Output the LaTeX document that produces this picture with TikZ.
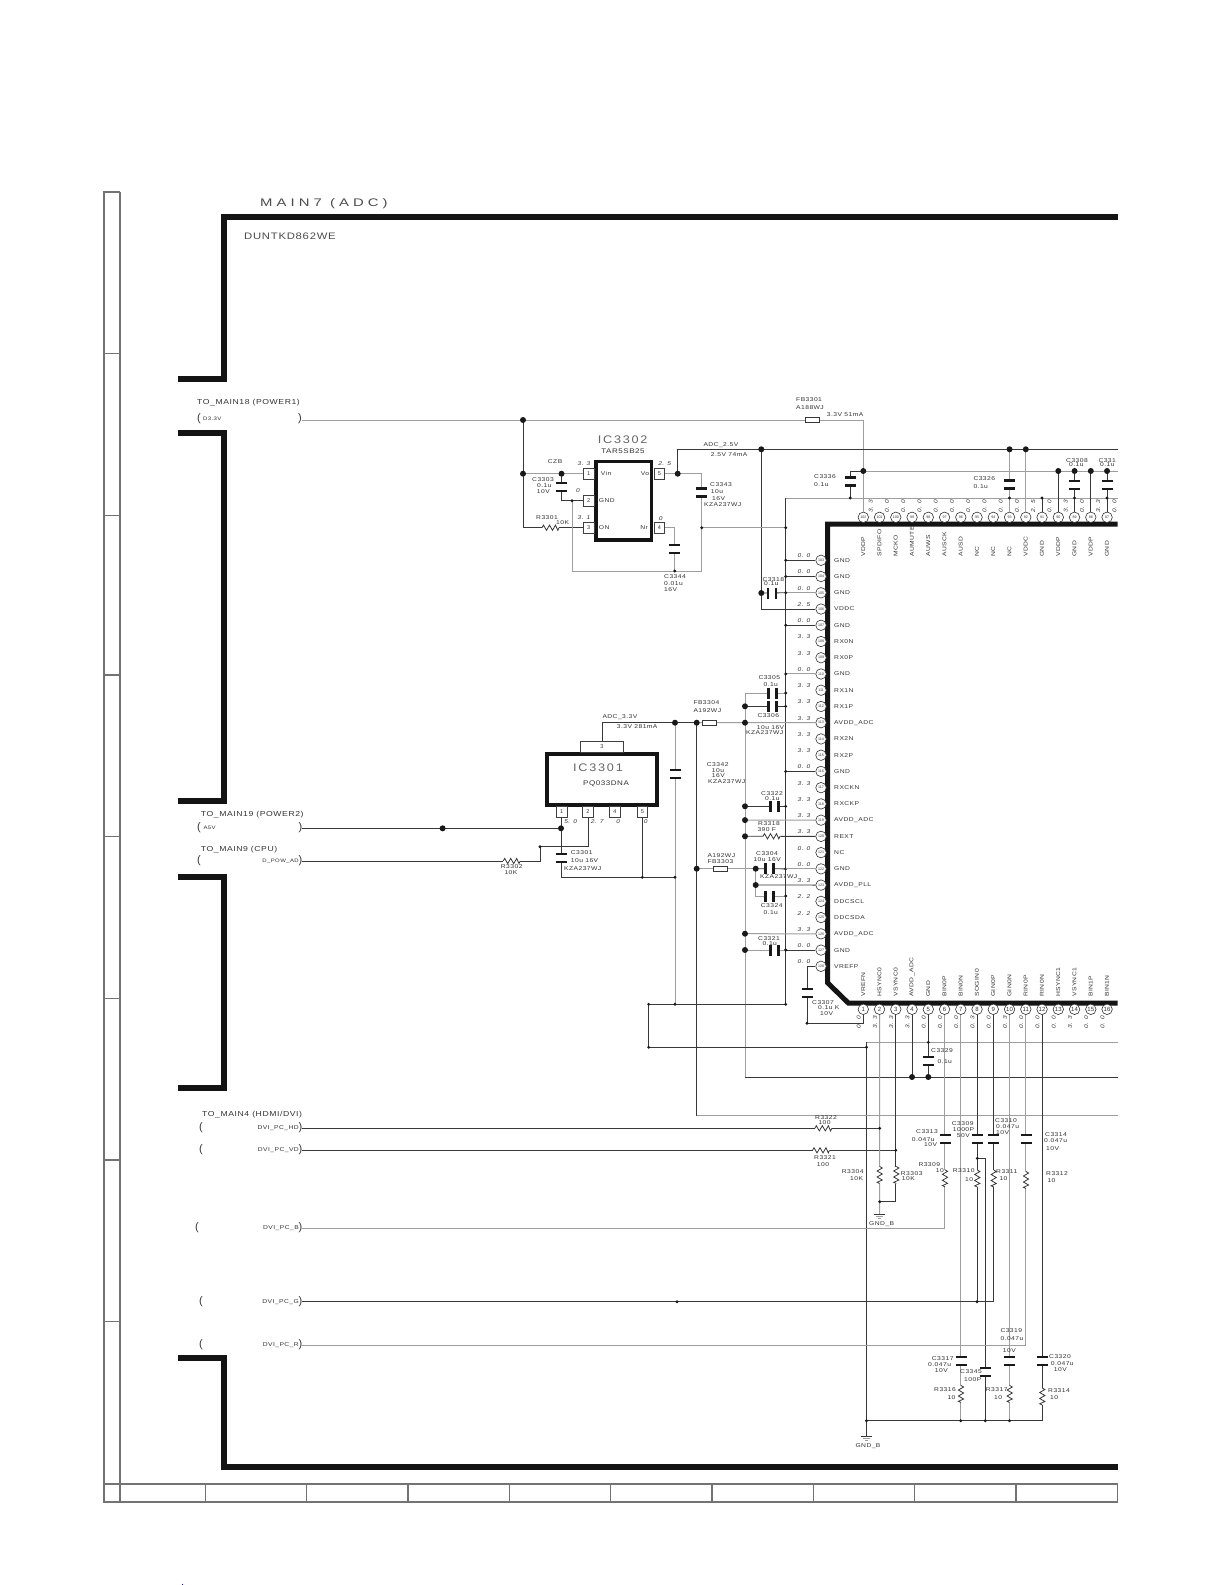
\documentclass[tikz,border=0pt]{standalone}
\usepackage{fontspec}
\newfontfamily\sch[FakeStretch=1.2,LetterSpace=8]{Liberation Sans}
\newfontfamily\schw[FakeStretch=1.35,LetterSpace=37]{Liberation Sans}
\newfontfamily\schi[FakeStretch=1.15,LetterSpace=16]{Liberation Sans}
\newcounter{lb}
\tikzset{
 w/.style={draw=black!78,line width=.8pt},
 wl/.style={draw=black!38,line width=1pt},
 frm/.style={draw=black!55,line width=1.1pt},
 thk/.style={draw=black!92,line width=6pt,line cap=butt,line join=miter},
 plate/.style={draw=black!90,line width=2.6pt},
 jb/.style={circle,fill=black!90,inner sep=0pt,minimum size=6pt},
 js/.style={circle,fill=black!90,inner sep=0pt,minimum size=3.2pt},
 lbl/.style={anchor=west,inner sep=0pt,text=black!80,font=\sch\fontsize{5.6}{6}\selectfont},
 volt/.style={anchor=center,inner sep=0pt,text=black!80,font=\sch\itshape\fontsize{5.5}{6}\selectfont},
 big/.style={anchor=center,inner sep=0pt,text=black!60,font=\schi\fontsize{11}{12}\selectfont},
 mid/.style={anchor=center,inner sep=0pt,text=black!80,font=\sch\fontsize{6.7}{8}\selectfont},
 side/.style={font=\sch\fontsize{7.2}{8}\selectfont},
 pinc/.style={circle,draw=black!80,line width=.6pt,fill=white,inner sep=0pt,minimum size=10.5pt,text=black!80,font=\fontspec{Liberation Sans}\fontsize{3.6}{4}\selectfont},
 pinb/.style={rectangle,draw=black!75,line width=.7pt,fill=white,inner sep=0pt,minimum width=10.5pt,minimum height=10.5pt,text=black!80,font=\fontspec{Liberation Sans}\fontsize{5.5}{6}\selectfont},
 icb/.style={rectangle,draw=black!92,inner sep=0pt},
 capv/.pic={\fill[white](-5,-4)rectangle(5,4);\draw[plate](-5.5,-4)--(5.5,-4) (-5.5,4)--(5.5,4);},
 caph/.pic={\fill[white](-4,-5)rectangle(4,5);\draw[plate](-4,-5.5)--(-4,5.5) (4,-5.5)--(4,5.5);},
 resv/.pic={\fill[white](-3,-8.5)rectangle(3,8.5);\draw[w](0,-8.5)--(2.6,-7)--(-2.6,-4)--(2.6,-1)--(-2.6,2)--(2.6,5)--(-2.6,7.3)--(0,8.5);},
 resh/.pic={\fill[white](-8.5,-3)rectangle(8.5,3);\draw[w](-8.5,0)--(-7,-2.6)--(-4,2.6)--(-1,-2.6)--(2,2.6)--(5,-2.6)--(7.3,2.6)--(8.5,0);},
 fuse/.pic={\draw[w,fill=white](-7,-2.5)rectangle(7,2.5);},
 gnds/.pic={\draw[w](-5.5,0)--(5.5,0);\draw[wl,line width=.6pt](-3.5,2)--(3.5,2);\draw[wl,line width=.6pt](-1.5,4)--(1.5,4);},
}
\newcommand\lab[3][]{\stepcounter{lb}\node[lbl,#1] (lab\arabic{lb}) at (#2) {#3};}
\newcommand\dotB[1]{\stepcounter{lb}\node[jb] (dot\arabic{lb}) at (#1) {};}
\newcommand\dotS[1]{\stepcounter{lb}\node[js] (dot\arabic{lb}) at (#1) {};}
\newcommand\pL[3]{\stepcounter{lb}\node[anchor=center,inner sep=0pt,text=black!80,font=\fontspec{Liberation Sans}\fontsize{11}{11}\selectfont] (par\arabic{lb}) at (#1,#2) {#3};}
\begin{document}
\begin{tikzpicture}[x=1pt,y=-1pt]
\useasboundingbox (0,0) rectangle (1221,1585);
\fill[white] (0,0) rectangle (1221,1585);
% drawing frame
\draw[frm] (120,192) -- (104,192) -- (104,1502) -- (1117.5,1502) -- (1117.5,1484) -- (104,1484);
\draw[frm] (120,192) -- (120,1502);
\foreach \y in {353.7,515.4,675,836.7,998.4,1160,1321.7}{\draw[frm] (104,\y) -- (120,\y);}
\foreach \x in {205.3,306.7,408,509.3,610.7,712,813.3,914.7,1016}{\draw[frm] (\x,1484) -- (\x,1502);}
\fill[blue] (181.5,1583.5) rectangle (182.5,1585);
% thick sheet borders
\draw[thk] (1117.5,217) -- (224,217) -- (224,379) -- (178,379);
\draw[thk] (178,433) -- (224,433) -- (224,801) -- (178,801);
\draw[thk] (178,877) -- (224,877) -- (224,1088) -- (178,1088);
\draw[thk] (178,1358) -- (224,1358) -- (224,1467) -- (1117.5,1467);
\lab[font=\schw\fontsize{11}{13}\selectfont,text=black!70]{260,204}{MAIN7 (ADC)}
\lab[font=\sch\fontsize{9.4}{10}\selectfont,text=black!70]{244,236}{DUNTKD862WE}
% main IC
\draw[line width=5pt,draw=black!92,line join=miter] (1117.5,524) -- (827.5,524) -- (827.5,982.7) -- (848.3,1003) -- (1117.5,1003);
\foreach \n/\t/\v [count=\i from 0] in {103/GND/0. 0,104/GND/0. 0,105/GND/0. 0,106/VDDC/2. 5,107/GND/0. 0,108/RX0N/3. 3,109/RX0P/3. 3,110/GND/0. 0,111/RX1N/3. 3,112/RX1P/3. 3,113/AVDD\_ADC/3. 3,114/RX2N/3. 3,115/RX2P/3. 3,116/GND/0. 0,117/RXCKN/3. 3,118/RXCKP/3. 3,119/AVDD\_ADC/3. 3,120/REXT/3. 3,121/NC/0. 0,122/GND/0. 0,123/AVDD\_PLL/3. 3,124/DDCSCL/2. 2,125/DDCSDA/2. 2,126/AVDD\_ADC/3. 3,127/GND/0. 0,128/VREFP/0. 0}{
  \pgfmathsetmacro\yy{560.3+\i*16.24}
  \node[pinc] (L\n) at (821,\yy) {\n};
  \node[lbl] (Lt\n) at (834,\yy) {\t};
  \pgfmathsetmacro\yv{\yy-4.5}
  \node[volt] (Lv\n) at (804,\yv) {\v};
}
\foreach \n/\t/\v [count=\i from 0] in {102/VDDP/3. 3,101/SPDIFO/0. 0,100/MCKO/0. 0,99/AUMUTE/0. 0,98/AUWS/0. 0,97/AUSCK/0. 0,96/AUSD/0. 0,95/NC/0. 0,94/NC/0. 0,93/NC/0. 0,92/VDDC/2. 5,91/GND/0. 0,90/VDDP/3. 3,89/GND/0. 0,88/VDDP/3. 3,87/GND/0. 0}{
  \pgfmathsetmacro\xx{863.3+\i*16.25}
  \node[pinc] (T\n) at (\xx,517.3) {\n};
  \node[lbl,rotate=90] (Tt\n) at (\xx,557) {\t};
  \pgfmathsetmacro\xv{\xx+7.5}
  \node[volt,rotate=90] (Tv\n) at (\xv,506.5) {\v};
}
\foreach \n/\t/\v [count=\i from 0] in {1/VREFN/0. 0,2/HSYNC0/3. 3,3/VSYNC0/3. 3,4/AVDD\_ADC/3. 3,5/GND/0. 0,6/BIN0P/0. 0,7/BIN0N/0. 0,8/SOGIN0/0. 3,9/GIN0P/0. 0,10/GIN0N/0. 3,11/RIN0P/0. 0,12/RIN0N/0. 0,13/HSYNC1/0. 0,14/VSYNC1/3. 3,15/BIN1P/0. 0,16/BIN1N/0. 0}{
  \pgfmathsetmacro\xx{863.3+\i*16.25}
  \node[pinc,font=\fontspec{Liberation Sans}\fontsize{6}{6}\selectfont] (B\n) at (\xx,1009.3) {\n};
  \node[lbl,rotate=90] (Bt\n) at (\xx,997) {\t};
  \pgfmathsetmacro\xv{\xx-4.5}
  \node[volt,rotate=90] (Bv\n) at (\xv,1022.5) {\v};
}
% named points
\coordinate (S18) at (302,420);
\coordinate (Jpw) at (523,420);
\coordinate (Jin) at (523,473.7);
\coordinate (Jcz) at (561.5,473.7);
\coordinate (Jg) at (572,500.7);
\coordinate (Jr) at (701.7,571);
\coordinate (Jc44) at (674.7,571);
\coordinate (Jvr) at (701.7,473.7);
\coordinate (Jvo) at (677.7,473.7);
\coordinate (RA25) at (1117.5,449.3);
\coordinate (J25) at (761.3,449.3);
\coordinate (Jnr) at (701.7,527.7);
\coordinate (Bn) at (785.7,527.7);
\coordinate (BusT) at (785.7,498);
\coordinate (BusB) at (785.7,1004.3);
\coordinate (Rg) at (1117.5,498);
\coordinate (Jc36) at (850.3,498);
\coordinate (Tc36) at (850.3,471);
\coordinate (R33) at (1117.5,471);
\coordinate (A1) at (745,693);
\coordinate (A2) at (745,1077);
\coordinate (RB) at (1117.5,1077);
\coordinate (V33) at (675,722.7);
\coordinate (V33b) at (696.7,722.7);
\coordinate (V33c) at (745,722.7);
\coordinate (N1) at (675,877.3);
\coordinate (N2) at (675,1004.3);
\coordinate (M1) at (696.7,868.7);
\coordinate (RC) at (1117.5,1115);
\coordinate (K1) at (755.7,868.7);
\coordinate (K2) at (755.7,885);
\coordinate (K3) at (755.7,896);
\coordinate (E1) at (648.7,1004.3);
\coordinate (E2) at (648.7,1047.3);
\coordinate (E3) at (866.5,1047.3);
\coordinate (E4) at (866.5,1042.3);
\coordinate (RD) at (1117.5,1042.3);
\coordinate (Gb) at (866.5,1436.7);
\coordinate (Gbar) at (866.5,1420.7);
\coordinate (C07) at (807,1023.3);
\coordinate (S19) at (302,828.3);
\coordinate (J19) at (561,828.3);
\coordinate (J19a) at (442.6,828.3);
\coordinate (S9) at (302,861);
\coordinate (P91) at (540,861);
\coordinate (P92) at (540,846.7);
\coordinate (SH) at (302,1128.3);
\coordinate (SV) at (302,1150.3);
\coordinate (SB) at (302,1228);
\coordinate (SG) at (302,1301.7);
\coordinate (SR) at (302,1345.3);
\coordinate (Gj) at (879.7,1201.7);
\coordinate (Ga) at (879.7,1214);
% IC3302
\node[icb,line width=3.5pt,minimum width=55.5pt,minimum height=78.3pt] (IC2) at (623.8,500.8) {};
\node[pinb] (P1) at (588.7,473.7) {1};
\node[pinb] (P2) at (588.7,500.7) {2};
\node[pinb] (P3) at (588.7,527.7) {3};
\node[pinb] (P5) at (659.3,473.7) {5};
\node[pinb] (P4) at (659.3,527.7) {4};
% IC3301
\node[icb,line width=3.2pt,minimum width=110pt,minimum height=51pt] (IC1) at (602,779.5) {};
\node[rectangle,draw=black!75,line width=.7pt,fill=white,minimum width=43.4pt,minimum height=11pt,inner sep=0pt,text=black!80,font=\fontspec{Liberation Sans}\fontsize{5.5}{6}\selectfont] (Q3) at (602,746.5) {3};
\node[pinb] (Q1) at (561.7,812) {1};
\node[pinb] (Q2) at (588,812) {2};
\node[pinb] (Q4) at (615,812) {4};
\node[pinb] (Q5) at (642.3,812) {5};
% wires: upper regulators
\draw[wl] (S18) -- (T102 |- S18) -- (T102);
\draw[w] (Jpw) -- (Jin);
\draw[wl] (Jin) -- (P1);
\draw[w] (Jin) |- (P3);
\draw[w] (Jcz) |- (P2);
\draw[wl] (Jg) |- (Jr) -- (Jvr) -- (P5);
\draw[w] (Jvo) |- (RA25);
\draw[w] (J25) |- (L106);
\draw[wl] (Jnr) -- (Bn);
\draw[wl] (P4) -| (Jc44);
\draw[w] (BusT) -- (BusB);
\draw[wl] (BusT) -- (Rg);
\draw[w] (Jc36) -- (Tc36) -- (T102 |- Tc36);
\draw[wl] (T102 |- R33) -- (R33);
% top pins
\draw[wl] (T93 |- RA25) -- (T93);
\draw[wl] (T92 |- RA25) -- (T92);
\draw[w] (T91 |- Rg) -- (T91);
\draw[w] (T90 |- R33) -- (T90);
\draw[w] (T89 |- R33) -- (T89);
\draw[w] (T88 |- R33) -- (T88);
\draw[w] (T87 |- R33) -- (T87);
% left pins
\foreach \n in {103,104,107,116,122,127}{\draw[w] (L\n -| BusB) -- (L\n); \dotS{L\n -| BusB}}
\foreach \n in {105,110}{\draw[wl] (L\n -| BusB) -- (L\n); \dotS{L\n -| BusB}}
\coordinate (Jc18) at (761.3,593);
\draw[w] (Jc18) -- (L105 -| BusB);
\draw[wl] (A1) -- (A2);
\draw[wl] (A1) -- (A1 -| BusB);
\coordinate (A3) at (745,706.3);
\draw[w] (A3) -- (A3 -| BusB);
\draw[w] (Q3) |- (V33b);
\draw[wl] (V33b) -- (L113);
\draw[wl] (V33) -- (N2);
\draw[w] (V33b) |- (RC);
\coordinate (A4) at (745,806.3);
\coordinate (A5) at (745,820.1);
\coordinate (A6) at (745,836.3);
\coordinate (A7) at (745,933.7);
\coordinate (A8) at (745,950);
\draw[w] (A4) -- (A4 -| BusB);
\draw[wl] (A5) -- (L119);
\draw[w] (A6) -- (L120);
\draw[wl] (A7) -- (L126);
\draw[wl] (A8) -- (A8 -| BusB);
\draw[wl] (M1) -- (K1);
\draw[w] (K1) -- (L122 -| BusB);
\draw[wl] (L122 -| BusB) -- (L122);
\draw[wl] (K1) -- (K3) -- (K3 -| BusB);
\draw[w] (K2) -- (L123);
\draw[w] (L128) -| (C07) -| (B1);
% bottom rails
\draw[w] (E1) -- (BusB);
\draw[w] (E1) -- (E2) -- (E3);
\draw[wl] (E4) -- (RD);
\draw[w] (E4) -- (Gb);
\draw[w] (A2) -- (RB);
\draw[wl] (V33b |- RC) -- (RC);
% IC3301 side
\draw[w] (S19) -- (J19);
\draw[w] (Q1) -- (N1 -| Q1) -- (N1);
\draw[w] (S9) -- (P91) -- (P92) -| (Q2);
\draw[w] (Q5) -- (Q5 |- N1);
% DVI inputs
\draw[w] (SH) -- (SH -| Gj);
\draw[w] (SV) -- (SV -| B3);
\draw[wl] (B2) -- (Ga);
\draw[w] (B3) |- (Gj);
\draw[w] (B4) -- (B4 |- RB);
\draw[w] (B5) -- (B5 |- RB);
\draw[wl] (B6) |- (SB);
\draw[wl] (B7) -- (B7 |- Gbar);
\draw[w] (B8) -- (B8 |- SG);
\coordinate (B8a) at (977.3,1158.3);
\coordinate (B8b) at (985.3,1158.3);
\draw[w] (B8a) -- (B8b) -- (B8b |- Gbar);
\draw[w] (B9) |- (SG);
\draw[wl] (B10) -- (B10 |- Gbar);
\draw[wl] (B11) |- (SR);
\draw[w] (B12) |- (Gbar);
% parts
\pic at (812,420) {fuse};
\pic at (550.5,527.7) {resh};
\pic at (561.5,487) {capv};
\pic at (674.7,549) {capv};
\pic at (701.7,492.7) {capv};
\pic at (850.3,481.7) {capv};
\pic at (T93 |- 0,484.5) {capv};
\pic at (T89 |- 0,484.8) {capv};
\pic at (T87 |- 0,484.8) {capv};
\pic at (772,593) {caph};
\pic at (772.3,693) {caph};
\pic at (772.3,706.3) {caph};
\pic at (709.8,722.7) {fuse};
\pic at (675,774) {capv};
\pic at (774.7,806.3) {caph};
\pic at (771.5,836.3) {resh};
\pic at (720.3,868.7) {fuse};
\pic at (769.3,868.7) {caph};
\pic at (769.3,896) {caph};
\pic at (774.7,950) {caph};
\pic at (807,993) {capv};
\pic at (561,858) {capv};
\pic at (511.7,861) {resh};
\pic at (823.3,1128.3) {resh};
\pic at (821,1150.3) {resh};
\pic at (928.7,1060.8) {capv};
\pic at (879.7,1175) {resv};
\pic at (896.3,1175) {resv};
\pic at (945,1139) {capv};
\pic at (945,1178.3) {resv};
\pic at (977.3,1139) {capv};
\pic at (977.3,1178.5) {resv};
\pic at (993.7,1139) {capv};
\pic at (993.7,1178.5) {resv};
\pic at (1026,1139) {capv};
\pic at (1026,1180) {resv};
\pic at (961,1361) {capv};
\pic at (961,1394) {resv};
\pic at (985.3,1372) {capv};
\pic at (1009.7,1361) {capv};
\pic at (1009.7,1394) {resv};
\pic at (1042.3,1361) {capv};
\pic at (1042.3,1396.5) {resv};
\pic at (Ga) {gnds};
\pic at (Gb) {gnds};
% junction dots
\dotB{Jpw}\dotB{Jin}\dotB{Jcz}\dotS{Jg}\dotS{Jc44}\dotS{Jnr}\dotB{Jvo}\dotB{J25}\dotS{Bn}\dotS{Jc36}
\dotB{T102 |- R33}\dotB{T93 |- RA25}\dotB{T92 |- RA25}\dotS{T93 |- Rg}\dotS{T91 |- Rg}\dotB{T90 |- R33}
\dotB{T89 |- R33}\dotS{T89 |- Rg}\dotB{T88 |- R33}\dotB{T87 |- R33}\dotS{T87 |- Rg}
\dotB{Jc18}\dotS{A1 -| BusB}\dotS{A3 -| BusB}\dotB{A3}\dotB{V33}\dotB{V33b}\dotB{V33c}
\dotB{A4}\dotS{A4 -| BusB}\dotB{A5}\dotB{A6}\dotB{M1}\dotB{K1}\dotB{K2}\dotS{K3 -| BusB}\dotB{A7}\dotB{A8}\dotS{A8 -| BusB}
\dotS{BusB}\dotS{N2}\dotS{E1}\dotS{E2}\dotS{E3}\dotS{N1}\dotS{Q5 |- N1}\dotS{C07}\dotS{P92}
\dotB{J19}\dotB{J19a}\dotS{B5 |- RD}\dotB{B4 |- RB}\dotB{B5 |- RB}
\dotS{SH -| Gj}\dotS{SV -| B3}\dotS{Gj}\dotS{B8a}\dotS{B8 |- SG}\dotS{677,1301.7}
\dotS{Gbar}\dotS{B7 |- Gbar}\dotS{B8b |- Gbar}\dotS{B10 |- Gbar}
% input connector marks
\lab[side]{197,403}{TO\_MAIN18 (POWER1)}
\pL{199}{419}{(}\pL{300}{419}{)}
\lab[font=\sch\fontsize{5}{6}\selectfont]{203,419}{D3.3V}
\lab[side]{200.7,815}{TO\_MAIN19 (POWER2)}
\pL{199}{828}{(}\pL{300.5}{828}{)}
\lab[font=\sch\fontsize{5}{6}\selectfont]{203.3,828}{A5V}
\lab[side]{200.7,850}{TO\_MAIN9 (CPU)}
\pL{199}{861}{(}\pL{300.5}{861}{)}
\lab[anchor=east,font=\sch\fontsize{5}{6}\selectfont]{299,861.5}{D\_POW\_AD}
\lab[side]{202,1114.5}{TO\_MAIN4 (HDMI/DVI)}
\pL{201}{1128}{(}\pL{300.5}{1128}{)}
\lab[anchor=east]{299,1128.5}{DVI\_PC\_HD}
\pL{201}{1150}{(}\pL{300.5}{1150}{)}
\lab[anchor=east]{299,1150.5}{DVI\_PC\_VD}
\pL{197}{1228}{(}\pL{300.5}{1228}{)}
\lab[anchor=east]{299,1228.5}{DVI\_PC\_B}
\pL{201}{1301.5}{(}\pL{300.5}{1301.5}{)}
\lab[anchor=east]{299,1302}{DVI\_PC\_G}
\pL{201}{1345}{(}\pL{300.5}{1345}{)}
\lab[anchor=east]{299,1345.5}{DVI\_PC\_R}
% labels upper
\lab{796,400}{FB3301}\lab{796,408}{A188WJ}\lab{826.7,415}{3.3V 51mA}
\lab[big]{622.7,439.3}{IC3302}\lab[mid]{623,451.3}{TAR5SB25}
\lab{703.3,445}{ADC\_2.5V}\lab{710.7,455}{2.5V 74mA}
\lab{547.7,461.3}{CZB}\lab{532,480}{C3303}\lab{537,485.7}{0.1u}\lab{536.7,491.7}{10V}
\lab[volt]{584,463.7}{3. 3}\lab[volt]{664.7,463.7}{2. 5}\lab[volt]{578,491}{0}\lab[volt]{584,517.7}{3. 1}\lab[volt]{660.7,518.3}{0}
\lab{536,517.7}{R3301}\lab{556,522.3}{10K}
\lab{600.7,473.7}{Vin}\lab{598.7,501}{GND}\lab{598.7,527.7}{ON}\lab[anchor=east]{649.3,473.7}{Vo}\lab[anchor=east]{648,527.7}{Nr}
\lab{710,484.3}{C3343}\lab{710.7,491.7}{10u}\lab{712,498.3}{16V}\lab{704,505}{KZA237WJ}
\lab{664,576.3}{C3344}\lab{664,583.3}{0.01u}\lab{664,590}{16V}
\lab{814,476.3}{C3336}\lab{814,484.7}{0.1u}
\lab{973.3,479}{C3326}\lab{973.3,487}{0.1u}
\lab{1066,460.3}{C3308}\lab{1069,465}{0.1u}\lab{1098.3,460.3}{C331}\lab{1100,465}{0.1u}
\lab{762.3,579.3}{C3318}\lab{764,584}{0.1u}
\lab{758.3,678}{C3305}\lab{763.3,684.7}{0.1u}\lab{757.3,715.7}{C3306}
\lab{756.7,727.3}{10u 16V}\lab{746,732.7}{KZA237WJ}
\lab{693.3,703}{FB3304}\lab{693.3,710.7}{A192WJ}
\lab{706.7,765}{C3342}\lab{711.7,771}{10u}\lab{711.7,776}{16V}\lab{708,781.7}{KZA237WJ}
\lab{602.3,717.3}{ADC\_3.3V}\lab{616.7,727}{3.3V 281mA}
\lab[big]{598,768}{IC3301}\lab[mid]{606,784}{PQ033DNA}
\lab[volt]{570.7,821.3}{5. 0}\lab[volt]{597.3,821.3}{2. 7}\lab[volt]{618.3,821.3}{0}\lab[volt]{645.7,821.3}{0}
\lab{570.7,852.7}{C3301}\lab{570.7,860.7}{10u 16V}\lab{564,869}{KZA237WJ}
\lab{500.7,866.7}{R3302}\lab{504.3,872.3}{10K}
\lab{761,794}{C3322}\lab{765,799}{0.1u}
\lab{758,823.7}{R3318}\lab{757.3,830}{390 F}
\lab{707.3,856}{A192WJ}\lab{707.3,861.3}{FB3303}
\lab{756,853.3}{C3304}\lab{753.3,860}{10u 16V}\lab{760,876.7}{KZA237WJ}
\lab{760.7,906}{C3324}\lab{763.3,912.7}{0.1u}
\lab{758,938.3}{C3321}\lab{762.3,943.3}{0.1u}
\lab{812,1002.3}{C3307}\lab{818,1008}{0.1u K}\lab{820,1014}{10V}
\lab{931,1051}{C3329}\lab{937.3,1062}{0.1u}
\lab{815,1117.3}{R3322}\lab{818.3,1122.3}{100}
\lab{814,1157.7}{R3321}\lab{816.7,1164.3}{100}
\lab{841.7,1171.3}{R3304}\lab{850,1179}{10K}
\lab{900.7,1173.3}{R3303}\lab{901.7,1179}{10K}
\lab{916,1131.7}{C3313}\lab{911.7,1139.3}{0.047u}\lab{924,1145}{10V}
\lab{951.7,1123.3}{C3309}\lab{952.7,1129.3}{1000P}\lab{956.7,1136}{50V}
\lab{995,1120.7}{C3310}\lab{996,1126.7}{0.047u}\lab{996,1132.3}{10V}
\lab{1045,1135}{C3314}\lab{1044,1141}{0.047u}\lab{1046,1148.3}{10V}
\lab{918.3,1164.7}{R3309}\lab{935.7,1170.3}{10}
\lab{952.7,1171}{R3310}\lab{965,1180}{10}
\lab{996,1171.3}{R3311}\lab{999.3,1178.7}{10}
\lab{1046,1174}{R3312}\lab{1047.3,1181}{10}
\lab[anchor=center]{881.7,1223.7}{GND\_B}
\lab{1000.3,1330.3}{C3319}\lab{1000.3,1339}{0.047u}\lab{1002.7,1350.7}{10V}
\lab{931.7,1358.7}{C3317}\lab{928,1364.7}{0.047u}\lab{934.7,1371}{10V}
\lab{960,1371.3}{C3345}\lab{964,1380}{100P}
\lab{1049,1356.3}{C3320}\lab{1050.7,1363.3}{0.047u}\lab{1053.7,1369.3}{10V}
\lab{934,1389.3}{R3316}\lab{947.3,1398}{10}
\lab{985.7,1389.3}{R3317}\lab{994,1398}{10}
\lab{1048,1390.3}{R3314}\lab{1050,1398}{10}
\lab[anchor=center]{868,1445.7}{GND\_B}
\end{tikzpicture}
\end{document}
